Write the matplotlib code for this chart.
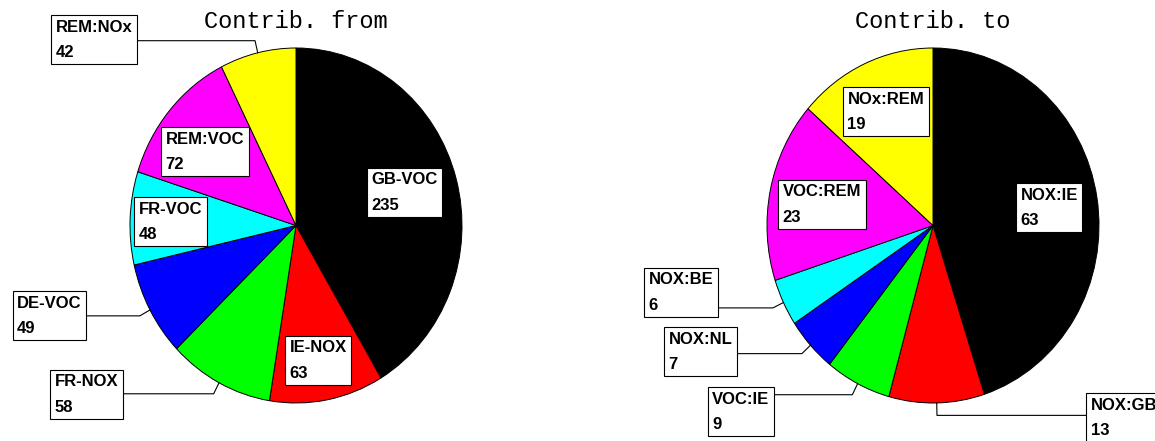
import numpy as np
import matplotlib
matplotlib.use('Agg')
import matplotlib.pyplot as plt

# contributions, clockwise from 12 o'clock
from_labels = ['GB-VOC', 'IE-NOX', 'FR-NOX', 'DE-VOC', 'FR-VOC', 'REM:VOC', 'REM:NOx']
from_values = [235, 63, 58, 49, 48, 72, 42]
to_labels = ['NOX:IE', 'NOX:GB', 'VOC:IE', 'NOX:NL', 'NOX:BE', 'VOC:REM', 'NOx:REM']
to_values = [63, 13, 9, 7, 6, 23, 19]
slice_colors = ['black', 'red', '#00ff00', 'blue', 'cyan', 'magenta', 'yellow']

W, H = 1155, 441
FS = 12          # label font size (pt)
PAD_PX = 4.5     # box padding in pixels

# label boxes in pixels: (x of box edge, y of box top, which edge x is, leader?)
from_boxes = [(367, 168, 'left', False), (285, 336, 'left', False),
              (123, 370, 'right', True), (86, 291, 'right', True),
              (134, 197, 'left', False), (161, 127, 'left', False),
              (137, 15, 'right', True)]
to_boxes = [(1016, 183, 'left', False), (1086, 393, 'left', True),
            (774, 387, 'right', True), (737, 327, 'right', True),
            (718, 268, 'right', True), (778, 180, 'left', False),
            (843, 87, 'left', False)]

pies = [('Contrib. from', from_labels, from_values, from_boxes, 296, 225.5),
        ('Contrib. to', to_labels, to_values, to_boxes, 933, 225.5)]
RX, RY = 166, 177.5

fig = plt.figure(figsize=(W / 100, H / 100), dpi=100)
over = fig.add_axes([0, 0, 1, 1], zorder=5)
over.set_xlim(0, W)
over.set_ylim(H, 0)
over.axis('off')
over.patch.set_alpha(0)

pad = PAD_PX / (FS * 100 / 72.0)

for title, labels, values, boxes, cx, cy in pies:
    ax = fig.add_axes([(cx - RX) / W, (H - cy - RY) / H, 2 * RX / W, 2 * RY / H], zorder=1)
    ax.pie(values, colors=slice_colors, startangle=90, counterclock=False,
           radius=1, wedgeprops=dict(edgecolor='black', linewidth=0.7))
    ax.set_aspect('auto')
    ax.set_xlim(-1, 1)
    ax.set_ylim(-1, 1)
    ax.axis('off')

    over.text(cx, 21, title, ha='center', va='center', fontsize=17,
              family='Liberation Mono')

    total = float(sum(values))
    cum = np.cumsum([0] + list(values[:-1]))
    for lab, v, c0, (bx, by, edge, lead) in zip(labels, values, cum, boxes):
        if edge == 'left':
            tx, ha = bx + PAD_PX, 'left'
        else:
            tx, ha = bx - PAD_PX, 'right'
        over.text(tx, by + PAD_PX, '%s\n%d' % (lab, v), ha=ha, va='top',
                  multialignment='left', fontsize=FS, family='Liberation Sans',
                  weight='bold', linespacing=1.85,
                  bbox=dict(boxstyle='square,pad=%.3f' % pad, fc='white',
                            ec='black', lw=0.8))
        if lead:
            th = np.radians(90 - 360 * (c0 + v / 2.0) / total)
            x0, y0 = cx + RX * np.cos(th), cy - RY * np.sin(th)
            x1, y1 = cx + 1.07 * RX * np.cos(th), cy - 1.07 * RY * np.sin(th)
            over.plot([x0, x1, bx], [y0, y1, y1], color='black', lw=0.8)

fig.savefig('out.png', dpi=100)
